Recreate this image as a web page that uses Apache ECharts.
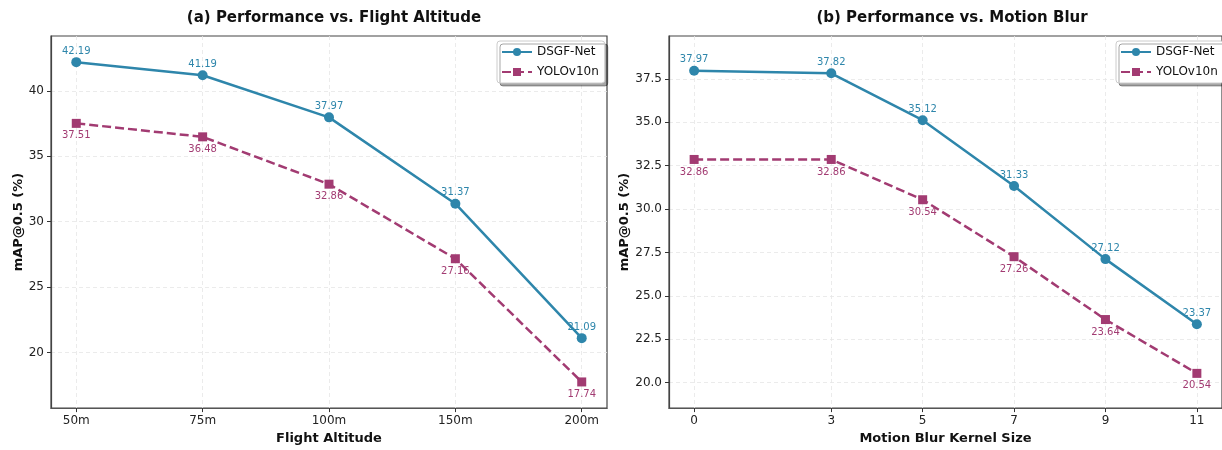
<!DOCTYPE html>
<html>
<head>
<meta charset="utf-8">
<script src="https://cdn.jsdelivr.net/npm/echarts@6/dist/echarts.min.js"></script>
<style>
html,body{margin:0;padding:0;background:#fff;}
#chart{width:1222px;height:450px;}
</style>
</head>
<body>
<div id="chart"></div>
<script>
// ---- data ----
const altitudeLabels = ['50m', '75m', '100m', '150m', '200m'];
const altitudeDSGF = [42.19, 41.19, 37.97, 31.37, 21.09];
const altitudeYOLO = [37.51, 36.48, 32.86, 27.16, 17.74];

const blurKernels = [0, 3, 5, 7, 9, 11];
const blurDSGF = [37.97, 37.82, 35.12, 31.33, 27.12, 23.37];
const blurYOLO = [32.86, 32.86, 30.54, 27.26, 23.64, 20.54];

const leftYTicks = [20, 25, 30, 35, 40];
const rightYTicks = [20.0, 22.5, 25.0, 27.5, 30.0, 32.5, 35.0, 37.5];

const BLUE = '#2E86AB';
const MAG = '#A23B72';
const FONT = 'DejaVu Sans';

const chart = echarts.init(document.getElementById('chart'), null, {renderer: 'canvas'});

const altIdx = altitudeLabels.map((_, i) => i);

function gridLine() {
  return {show: true, lineStyle: {color: '#e6e6e6', type: [4, 3], width: 0.8}};
}

function xAxisBase(gridIndex, min, max, ticks, fmt, name) {
  return {
    type: 'value', gridIndex, min, max,
    axisLine: {show: true, onZero: false, lineStyle: {color: '#555', width: 1.2}},
    axisTick: {show: true, customValues: ticks, length: 4, lineStyle: {color: '#333'}},
    axisLabel: {customValues: ticks, formatter: fmt, color: '#222', fontFamily: FONT, fontSize: 12, margin: 7},
    splitLine: gridLine(),
    name, nameLocation: 'middle', nameGap: 23,
    nameTextStyle: {fontFamily: FONT, fontWeight: 'bold', fontSize: 13, color: '#111'}
  };
}

function yAxisBase(gridIndex, min, max, ticks, fmt, nameGap) {
  return {
    type: 'value', gridIndex, min, max,
    axisLine: {show: true, onZero: false, lineStyle: {color: '#444', width: 1.2}},
    axisTick: {show: true, customValues: ticks, length: 4, lineStyle: {color: '#333'}},
    axisLabel: {customValues: ticks, formatter: fmt, color: '#222', fontFamily: FONT, fontSize: 12, margin: 7},
    splitLine: gridLine(),
    name: 'mAP@0.5 (%)', nameLocation: 'middle', nameGap, nameRotate: 90,
    nameTextStyle: {fontFamily: FONT, fontWeight: 'bold', fontSize: 13, color: '#111'}
  };
}

function lineSeries(name, xs, ys, xi, color, dashed, symbol, size, labelPos, dist) {
  return {
    name, type: 'line', xAxisIndex: xi, yAxisIndex: xi,
    data: xs.map((x, i) => [x, ys[i]]),
    symbol, symbolSize: size,
    lineStyle: {color, width: 2.5, type: dashed ? [9, 4] : 'solid'},
    itemStyle: {color},
    label: {show: true, position: labelPos, distance: dist, color, fontFamily: FONT, fontSize: 10,
            formatter: p => p.value[1].toFixed(2)},
    emphasis: {disabled: true},
    animation: false, z: 3
  };
}

function legend(left) {
  return {
    left, top: 41, orient: 'vertical',
    data: ['DSGF-Net', 'YOLOv10n'],
    itemWidth: 30, itemHeight: 10, itemGap: 8,
    padding: [5, 6, 5, 4],
    backgroundColor: '#fff', borderColor: '#ccc', borderWidth: 1, borderRadius: 3,
    shadowColor: 'rgba(0,0,0,0.35)', shadowOffsetX: 3, shadowOffsetY: 3, shadowBlur: 0,
    textStyle: {fontFamily: FONT, fontSize: 12, color: '#111'}
  };
}

const option = {
  backgroundColor: '#fff',
  animation: false,
  title: [
    {text: '(a) Performance vs. Flight Altitude', left: 329, top: 6, textAlign: 'center',
     textStyle: {fontFamily: FONT, fontWeight: 'bold', fontSize: 15, color: '#111'}},
    {text: '(b) Performance vs. Motion Blur', left: 947, top: 6, textAlign: 'center',
     textStyle: {fontFamily: FONT, fontWeight: 'bold', fontSize: 15, color: '#111'}}
  ],
  legend: [legend(497), legend(1116)],
  grid: [
    {left: 51, top: 36, width: 556, height: 376, show: true, borderColor: '#444', borderWidth: 1.2, backgroundColor: 'transparent'},
    {left: 669, top: 36, width: 556, height: 376, show: true, borderColor: '#444', borderWidth: 1.2, backgroundColor: 'transparent'}
  ],
  xAxis: [
    xAxisBase(0, -0.2, 4.2, altIdx, v => altitudeLabels[Math.round(v)], 'Flight Altitude'),
    xAxisBase(1, -0.55, 11.55, blurKernels, v => String(v), 'Motion Blur Kernel Size')
  ],
  yAxis: [
    yAxisBase(0, 15.74, 44.19, leftYTicks, v => String(v), 26),
    yAxisBase(1, 18.54, 39.97, rightYTicks, v => v.toFixed(1), 36)
  ],
  series: [
    lineSeries('DSGF-Net', altIdx, altitudeDSGF, 0, BLUE, false, 'circle', 10, 'top', 1),
    lineSeries('YOLOv10n', altIdx, altitudeYOLO, 0, MAG, true, 'rect', 9, 'bottom', 3),
    lineSeries('DSGF-Net', blurKernels, blurDSGF, 1, BLUE, false, 'circle', 10, 'top', 1),
    lineSeries('YOLOv10n', blurKernels, blurYOLO, 1, MAG, true, 'rect', 9, 'bottom', 3)
  ]
};
chart.setOption(option);
</script>
</body>
</html>
